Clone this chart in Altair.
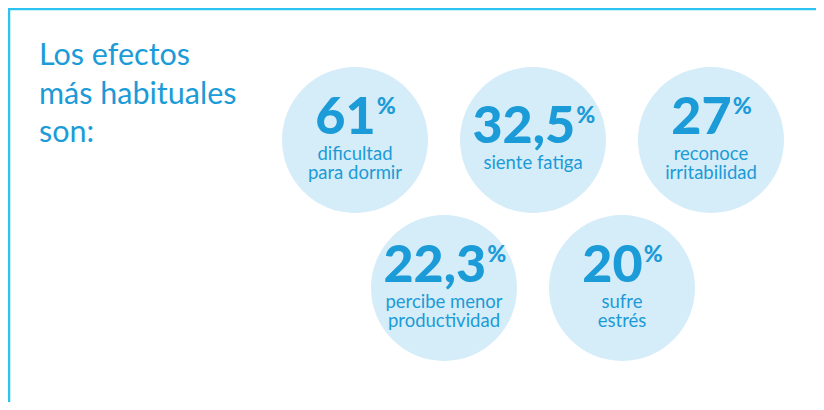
import math
import altair as alt
import pandas as pd

# ---- content ----
title_lines = ["Los efectos", "más habituales", "son:"]
values = ["61", "32,5", "27", "22,3", "20"]
labels = [
    ["dificultad", "para dormir"],
    ["siente fatiga"],
    ["reconoce", "irritabilidad"],
    ["percibe menor", "productividad"],
    ["sufre", "estrés"],
]

# ---- layout / style ----
W, H = 808, 394
X0, Y0, DX, DY, R = 355, 140, 178, 148, 73
grid = [(0, 0), (0, 1), (0, 2), (1, 0), (1, 1)]  # (row, col)
FONT = "Lato"
NUM_SIZE, PCT_SIZE, LAB_SIZE, LAB_LEAD = 52, 23, 18.5, 18.5
TITLE_SIZE, TITLE_X, TITLE_Y, TITLE_LEAD = 30.5, 39, 65, 38.5
BLUE = "#1B9BD7"
FILL = "#D5ECF9"
BORDER = "#2DC3F1"


def num_width(s):
    return NUM_SIZE * sum(0.25 if c == "," else 0.58 for c in s)


circ_rows, num_rows, pct_rows, lab_rows = [], [], [], []
for (row, col), v, labs in zip(grid, values, labels):
    cx = X0 + col * DX + row * DX / 2
    cy = Y0 + row * DY
    circ_rows.append({"x": cx, "y": cy})
    shift = (2 - len(labs)) * LAB_LEAD / 2
    base = cy - 6 + shift
    right = cx + 3 + (num_width(v) - PCT_SIZE - 2) / 2
    num_rows.append({"x": right, "y": base, "t": v})
    pct_rows.append({"x": right + 1, "y": base - 20, "t": "%"})
    for i, lt in enumerate(labs):
        lab_rows.append({"x": cx, "y": base + 26 + i * LAB_LEAD, "t": lt})

title_rows = [{"x": TITLE_X, "y": TITLE_Y + i * TITLE_LEAD, "t": t} for i, t in enumerate(title_lines)]

xs = alt.Scale(domain=[8, 8 + W])
ys = alt.Scale(domain=[8, 8 + H], reverse=True)


def enc(ch):
    return ch.encode(x=alt.X("x:Q", scale=xs, axis=None), y=alt.Y("y:Q", scale=ys, axis=None))


# Vega symbol size is the area of the bounding square: (2R)^2
circles = enc(alt.Chart(pd.DataFrame(circ_rows)).mark_circle(size=(2 * R) ** 2, color=FILL, opacity=1))
nums = enc(alt.Chart(pd.DataFrame(num_rows)).mark_text(
    font=FONT, fontSize=NUM_SIZE, fontWeight=900, color=BLUE, align="right", baseline="alphabetic")).encode(text="t:N")
pcts = enc(alt.Chart(pd.DataFrame(pct_rows)).mark_text(
    font=FONT, fontSize=PCT_SIZE, fontWeight=900, color=BLUE, align="left", baseline="alphabetic")).encode(text="t:N")
labs = enc(alt.Chart(pd.DataFrame(lab_rows)).mark_text(
    font=FONT, fontSize=LAB_SIZE, color=BLUE, align="center", baseline="alphabetic")).encode(text="t:N")
title = enc(alt.Chart(pd.DataFrame(title_rows)).mark_text(
    font=FONT, fontSize=TITLE_SIZE, color=BLUE, align="left", baseline="alphabetic")).encode(text="t:N")

dummy = pd.DataFrame({"a": [0]})
top_rule = alt.Chart(dummy).mark_rule(color=BORDER, strokeWidth=2.5).encode(
    x=alt.value(0), x2=alt.value(W), y=alt.value(1))
left_rule = alt.Chart(dummy).mark_rule(color=BORDER, strokeWidth=2.5).encode(
    x=alt.value(1), y=alt.value(0), y2=alt.value(H))

chart = alt.layer(top_rule, left_rule, circles, title, nums, pcts, labs).properties(
    width=W, height=H, padding=0, autosize=alt.AutoSizeParams(type="none")
).configure_view(stroke=None)

chart.save("out.html", embed_options={"renderer": "svg", "actions": False})
